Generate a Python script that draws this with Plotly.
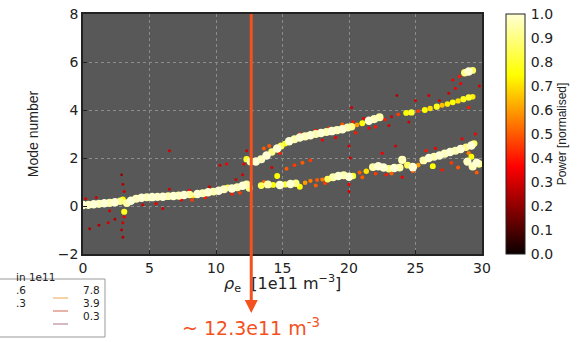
import plotly.graph_objects as go

# ---------------- data ----------------
# lower mode branch (mode ~0 -> ~2.5)
lower_rho = [0.0, 0.4, 0.8, 1.2, 1.6, 2.0, 2.4, 2.8, 3.0, 3.1, 3.3, 3.6, 4.0, 4.4, 4.8, 5.2, 5.6, 6.0,
             6.4, 6.8, 7.2, 7.6, 8.0, 8.3, 8.6, 9.0, 9.4, 9.8, 10.2, 10.6, 10.9, 11.2, 11.6, 12.0, 12.3, 12.5,
             13.4, 13.9, 14.3, 14.6, 14.8, 15.2, 15.6, 16.0, 16.3, 16.7, 17.1, 17.6, 18.0, 18.4, 18.8, 19.2,
             19.6, 20.0, 20.3, 20.8, 21.3, 21.8, 22.2, 22.6, 23.0, 23.4, 23.8, 24.0, 24.4, 24.8, 25.2, 25.6,
             26.0, 26.4, 26.3, 26.8, 27.2, 27.6, 28.0, 28.4, 28.8, 29.2, 29.4, 28.9, 29.3, 29.6, 29.8, 29.2]
lower_mode = [0.04, 0.05, 0.07, 0.09, 0.11, 0.13, 0.16, 0.20, 0.27, -0.24, 0.12, 0.22, 0.30, 0.34, 0.36, 0.37,
              0.38, 0.39, 0.41, 0.42, 0.43, 0.46, 0.48, 0.44, 0.50, 0.53, 0.57, 0.60, 0.64, 0.70, 0.76, 0.73,
              0.78, 0.84, 0.90, 0.75, 0.85, 0.90, 0.88, 1.25, 0.88, 0.90, 0.92, 0.95, 0.80, 0.97, 1.05, 1.08,
              1.10, 1.12, 1.20, 1.25, 1.28, 1.22, 1.25, 1.40, 1.45, 1.62, 1.66, 1.60, 1.55, 1.58, 1.60, 1.92,
              1.70, 1.62, 1.70, 1.90, 2.00, 2.05, 1.66, 2.10, 2.18, 2.25, 2.30, 2.38, 2.45, 2.52, 2.60, 1.85,
              1.65, 1.80, 1.75, 2.05]
lower_power = [1.0, 0.98, 1.0, 0.97, 1.0, 0.96, 1.0, 0.9, 0.75, 0.78, 0.95, 1.0, 0.97, 1.0, 0.96, 1.0,
               0.98, 1.0, 0.95, 1.0, 0.97, 1.0, 0.93, 0.7, 1.0, 0.96, 1.0, 0.94, 1.0, 0.97, 0.8, 1.0,
               0.96, 1.0, 0.95, 0.9, 0.85, 0.95, 0.75, 0.75, 1.0, 0.8, 1.0, 0.9, 0.75, 0.6, 0.55, 0.5,
               0.55, 0.85, 0.95, 1.0, 0.95, 1.0, 0.8, 0.5, 0.7, 0.95, 1.0, 1.0, 0.9, 1.0, 0.95, 0.97,
               0.85, 1.0, 0.6, 0.95, 1.0, 0.95, 0.75, 1.0, 0.97, 1.0, 0.95, 1.0, 0.9, 1.0, 0.85, 0.98,
               0.97, 1.0, 0.9, 0.75]

# upper mode branch (mode ~2 -> ~4.5)
upper_rho = [12.3, 12.6, 13.0, 13.4, 13.8, 14.2, 14.6, 14.9, 15.2, 15.5, 15.9, 16.3, 16.7, 17.1, 17.5, 17.9,
             18.3, 18.7, 19.1, 19.5, 19.9, 20.2, 20.6, 21.0, 21.5, 21.9, 22.3, 22.7, 23.2, 23.7, 24.3, 24.7,
             25.2, 25.7, 26.1, 26.6, 27.0, 27.4, 27.8, 28.2, 28.6, 29.0, 29.3]
upper_mode = [1.95, 1.85, 1.85, 1.95, 2.10, 2.25, 2.40, 2.50, 2.60, 2.70, 2.78, 2.85, 2.90, 2.95, 3.00, 3.04,
              3.08, 3.12, 3.16, 3.20, 3.27, 3.30, 3.38, 3.45, 3.55, 3.62, 3.70, 3.60, 3.72, 3.82, 3.88, 3.90,
              3.95, 4.00, 4.06, 4.14, 4.20, 4.25, 4.32, 4.38, 4.45, 4.52, 4.55]
upper_power = [0.8, 0.95, 1.0, 0.97, 1.0, 0.9, 1.0, 0.85, 0.75, 1.0, 0.95, 1.0, 0.97, 1.0, 0.95, 1.0,
               0.96, 1.0, 0.97, 1.0, 0.95, 0.9, 0.6, 0.75, 1.0, 0.97, 0.95, 0.4, 0.3, 0.45, 0.75, 0.8,
               0.45, 0.75, 0.7, 0.78, 0.65, 0.72, 0.75, 0.7, 0.78, 0.8, 0.72]

# top mode branch (mode ~5.5)
top_rho = [27.8, 28.3, 28.7, 29.0, 29.3]
top_mode = [5.25, 5.40, 5.55, 5.60, 5.65]
top_power = [0.35, 0.4, 0.9, 1.0, 0.85]

# weak, scattered spectral points
weak_rho = [2.9, 3.0, 3.1, 3.0, 2.9, 3.1, 3.0, 0.5, 1.2, 1.9, 2.4, 6.5, 6.5, 7.4, 8.2, 8.0, 9.2, 9.5,
            10.3, 10.8, 11.2, 11.5, 12.0, 12.3, 11.8, 12.1, 15.3, 15.9, 16.5, 17.1, 14.2, 13.6,
            16.3, 17.5, 18.5, 19.5, 20.3, 21.1, 18.0, 19.0, 20.5, 21.5, 22.0, 23.0,
            20.0, 20.1, 20.0, 20.2, 20.0, 22.5, 23.5, 24.0, 23.6, 24.5, 22.8,
            25.0, 26.0, 26.5, 27.0, 27.5, 28.0, 28.4, 28.5, 29.0, 29.5, 29.6, 29.0, 28.2, 27.7, 29.8, 26.8, 25.8,
            17.5, 18.2, 21.0, 22.0, 23.2, 24.8, 14.0, 13.6, 14.8, 0.2, 1.0, 2.0, 4.5, 5.5, 6.0]
weak_mode = [-1.0, -0.7, 0.6, 0.9, 1.3, -0.45, -1.3, -0.95, -0.8, -0.7, -0.55, 0.7, 2.3, 0.25, 0.25, 0.65, 0.35, 0.8,
             1.7, 1.75, 0.5, 1.1, 1.3, 2.3, 0.55, 1.75, 1.55, 1.7, 1.8, 1.9, 1.6, 1.0,
             3.0, 3.15, 3.25, 3.4, 3.5, 3.65, 2.75, 2.85, 3.05, 3.25, 3.3, 3.35,
             0.9, 2.0, 2.5, 4.1, 0.6, 2.2, 2.5, 1.2, 4.6, 3.5, 1.3,
             4.4, 4.6, 2.4, 1.5, 4.7, 4.9, 5.1, 2.8, 4.1, 3.0, 1.4, 2.2, 1.6, 1.8, 5.0, 4.4, 2.3,
             0.85, 0.95, 1.2, 1.35, 1.35, 1.45, 2.5, 2.4, 2.2, 0.3, 0.35, -0.2, 0.05, 0.1, -0.1]
weak_power = [0.25, 0.3, 0.3, 0.25, 0.2, 0.35, 0.25, 0.25, 0.25, 0.3, 0.25, 0.3, 0.3, 0.35, 0.45, 0.35, 0.4, 0.3,
              0.3, 0.35, 0.4, 0.3, 0.3, 0.3, 0.45, 0.35, 0.5, 0.45, 0.5, 0.45, 0.3, 0.5,
              0.45, 0.4, 0.45, 0.5, 0.4, 0.35, 0.35, 0.35, 0.4, 0.35, 0.4, 0.3,
              0.35, 0.3, 0.3, 0.3, 0.3, 0.35, 0.3, 0.35, 0.25, 0.3, 0.4,
              0.3, 0.3, 0.35, 0.4, 0.3, 0.35, 0.35, 0.35, 0.4, 0.35, 0.5, 0.55, 0.5, 0.45, 0.3, 0.3, 0.4,
              0.5, 0.45, 0.5, 0.45, 0.5, 0.5, 0.5, 0.5, 0.4, 0.3, 0.3, 0.3, 0.3, 0.35, 0.3]

# legend (partly cut off in the original)
legend_title = "in 1e11"
legend_left = [".6", ".3", ""]
legend_right = ["7.8", "3.9", "0.3"]
legend_colors = ["#f3c58a", "#e39a8e", "#c9a3ad"]

cutoff_rho = 12.65
cutoff_text = "~ 12.3e11 m<sup>-3</sup>"
x_title = "<i>ρ</i><sub>e</sub>  [1e11 m<sup>−3</sup>]"

# ---------------- figure ----------------
rho = lower_rho + upper_rho + top_rho + weak_rho
mode = lower_mode + upper_mode + top_mode + weak_mode
power = lower_power + upper_power + top_power + weak_power
order = sorted(range(len(power)), key=lambda i: power[i])
rho = [rho[i] for i in order]
mode = [mode[i] for i in order]
power = [power[i] for i in order]
sizes = [2.5 + 6.0 * p * p for p in power]

hot = [[0.0, "rgb(11,0,0)"], [0.365, "rgb(255,0,0)"], [0.746, "rgb(255,255,0)"], [1.0, "rgb(255,255,212)"]]

W, H = 581, 342
L, R, T, B = 83, 99, 14, 88
pw, ph = W - L - R, H - T - B


def px(xp):
    return (xp - L) / pw


def py(yp):
    return (H - B - yp) / ph


TXT = "#222"
fig = go.Figure()
fig.add_trace(go.Scatter(
    x=rho, y=mode, mode="markers",
    marker=dict(color=power, size=sizes, opacity=1, colorscale=hot, cmin=0, cmax=1, line=dict(width=0),
                colorbar=dict(x=px(506), xanchor="left", xref="paper", thickness=19, thicknessmode="pixels",
                              len=1, lenmode="fraction", y=0.5, yanchor="middle",
                              outlinewidth=1, outlinecolor=TXT, xpad=0, ypad=0,
                              tickvals=[i / 10 for i in range(11)], ticktext=[f"{i/10:.1f}" for i in range(11)],
                              ticks="outside", ticklen=3, tickcolor="rgba(0,0,0,0)",
                              tickfont=dict(family="DejaVu Sans", size=14, color=TXT),
                              title=dict(text="Power [normalised]", side="right",
                                         font=dict(family="Liberation Sans", size=12, color=TXT)))),
    showlegend=False, hoverinfo="skip"))

fig.update_layout(
    width=W, height=H, margin=dict(l=L, r=R, t=T, b=B, autoexpand=False),
    paper_bgcolor="white", plot_bgcolor="#585858",
    font=dict(family="DejaVu Sans", size=14, color=TXT),
)
fig.update_xaxes(range=[0, 30], dtick=5, showgrid=True, gridcolor="#8c8c8c", griddash="dot", gridwidth=1,
                 zeroline=False, showline=True, mirror=True, linecolor=TXT, linewidth=1.5,
                 ticks="inside", ticklen=4, tickcolor=TXT,
                 tickfont=dict(family="DejaVu Sans", size=14, color=TXT))
fig.update_yaxes(range=[-2, 8], dtick=2, showgrid=True, gridcolor="#8c8c8c", griddash="dot", gridwidth=1,
                 zeroline=False, showline=True, mirror=True, linecolor=TXT, linewidth=1.5,
                 ticks="inside", ticklen=4, tickcolor=TXT,
                 tickfont=dict(family="DejaVu Sans", size=14, color=TXT),
                 title=dict(text="Mode number", standoff=16,
                            font=dict(family="Liberation Sans", size=14, color=TXT)))

# x-axis title placed as text to match the tight spacing of the original
fig.add_annotation(xref="paper", yref="paper", x=0.5, y=py(296.5), text=x_title, showarrow=False,
                   font=dict(family="DejaVu Sans", size=16, color=TXT))

red = "#F4511E"
fig.add_shape(type="line", xref="x", yref="paper", x0=cutoff_rho, x1=cutoff_rho, y0=1, y1=py(301),
              line=dict(color=red, width=3))
xc = px(L + cutoff_rho * pw / 30)
fig.add_shape(type="path", xref="paper", yref="paper",
              path=f"M {xc - 6.5/pw} {py(300)} L {xc + 6.5/pw} {py(300)} L {xc} {py(313)} Z",
              fillcolor=red, line=dict(color=red, width=0))
fig.add_annotation(xref="paper", yref="paper", x=px(251), y=py(341), text=cutoff_text, showarrow=False,
                   font=dict(family="DejaVu Sans", size=19, color=red))

# partial legend box
fig.add_shape(type="rect", xref="paper", yref="paper", x0=px(-20), x1=px(105), y0=py(337), y1=py(279),
              fillcolor="white", line=dict(color="#999", width=1))
fig.add_annotation(xref="paper", yref="paper", x=px(14), y=py(285), text=legend_title, showarrow=False,
                   xanchor="left", font=dict(family="DejaVu Sans", size=10.5, color=TXT))
rows_y = [298, 311, 324]
for i in range(3):
    if legend_left[i]:
        fig.add_annotation(xref="paper", yref="paper", x=px(14), y=py(rows_y[i]), text=legend_left[i],
                           showarrow=False, xanchor="left", font=dict(family="DejaVu Sans", size=10.5, color=TXT))
    fig.add_annotation(xref="paper", yref="paper", x=px(102), y=py(rows_y[i]), text=legend_right[i],
                       showarrow=False, xanchor="right", font=dict(family="DejaVu Sans", size=10.5, color=TXT))
    fig.add_shape(type="line", xref="paper", yref="paper", x0=px(53), x1=px(68), y0=py(rows_y[i]),
                  y1=py(rows_y[i]), line=dict(color=legend_colors[i], width=1.5))

fig.write_html("out.html")
